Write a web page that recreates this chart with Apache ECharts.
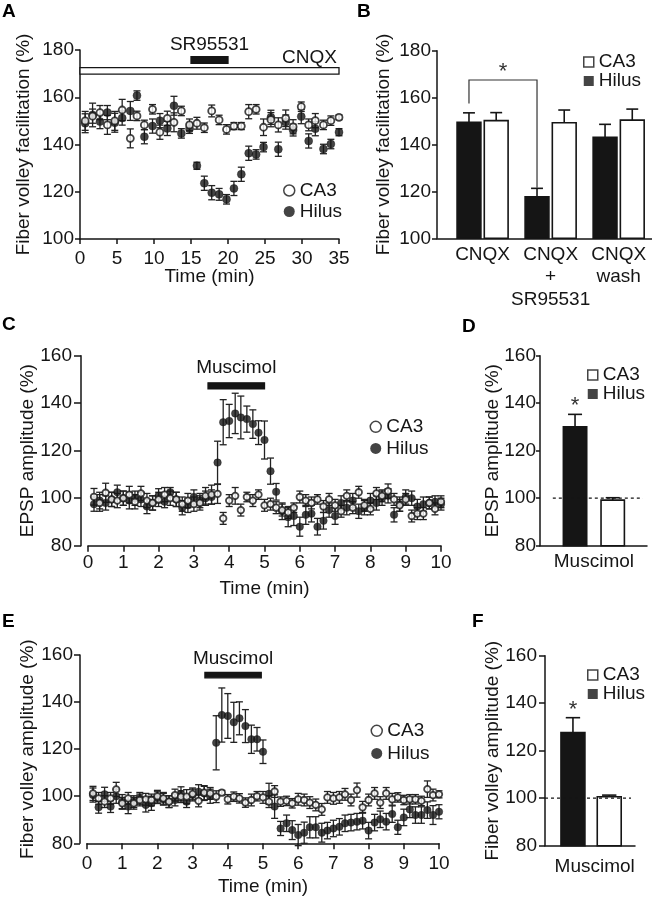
<!DOCTYPE html>
<html><head><meta charset="utf-8">
<script src="https://cdn.jsdelivr.net/npm/echarts@6/dist/echarts.min.js"></script>
<style>html,body{margin:0;padding:0;background:#fff}#c{width:652px;height:900px}</style>
</head><body><div id="c"></div>
<script>
const FONT = '"Liberation Sans", Arial, Helvetica, sans-serif';
const INK = '#151515';

// ---------- Panel A : fiber volley facilitation vs time ----------
const timeA = [0.7,1.7,2.7,3.7,4.7,5.7,6.8,7.7,8.7,9.8,10.8,11.8,12.7,13.7,14.8,15.8,16.8,17.8,18.8,19.8,20.8,21.8,22.8,23.8,24.8,25.8,26.8,27.8,28.8,29.9,30.9,31.8,32.9,33.9,35.0];
const hilusA = [149.0,152.5,149.7,153.5,149.2,151.2,154.2,160.7,143.3,147.8,150.1,146.8,156.4,144.7,146.7,131.0,123.6,119.6,118.9,116.8,121.4,127.4,136.3,135.8,138.9,151.5,138.0,149.5,146.1,151.8,141.5,146.7,138.1,140.2,145.2];
const hilusErrA = [4,5,3,3,4,3,4,2,3,3,3,3,4,2,2,1.5,3,3,2.5,2,3,3,3,2,2,3,3,3,2.5,3,3,3,2,2,1.5];
const ca3A = [150.0,152.0,153.5,148.3,150.0,154.6,142.6,152.1,148.3,154.9,145.2,151.1,149.4,154.2,148.3,149.0,147.1,154.2,150.4,146.4,147.8,147.8,153.9,154.9,147.3,150.5,148.3,151.1,147.5,156.0,148.3,150.1,148.3,150.1,151.5];
const ca3ErrA = [4,3,3,4,4,4.5,4,2,2,2,3,3,4,2,2.5,2.5,2,2.5,2,2,1.5,1.5,3,2,3.5,3,3,3.5,3,2,2.5,3,2,2,1];
const cnqxWindowA = [0, 35];
const srWindowA = [15, 20];

// ---------- Panel B : summary bars ----------
const groupsB = ['CNQX', 'CNQX\n+\nSR95531', 'CNQX\nwash'];
const hilusB = [149.5, 117.7, 143.1];
const hilusErrB = [4.0, 3.6, 5.5];
const ca3B = [150.2, 149.3, 150.4];
const ca3ErrB = [3.4, 5.4, 4.7];
const sigPairB = [0, 1];

// ---------- Panels C & E : time courses (10 s bins) ----------
const timeCE = [0.17,0.33,0.5,0.67,0.83,1,1.17,1.33,1.5,1.67,1.83,2,2.17,2.33,2.5,2.67,2.83,3,3.17,3.33,3.5,3.67,3.83,4,4.17,4.33,4.5,4.67,4.83,5,5.17,5.33,5.5,5.67,5.83,6,6.17,6.33,6.5,6.67,6.83,7,7.17,7.33,7.5,7.67,7.83,8,8.17,8.33,8.5,8.67,8.83,9,9.17,9.33,9.5,9.67,9.83,10];
const hilusC = [97.5,99,98,99.5,102.5,100,99,100,99.5,96.5, 98,101,98.5,102.5,99.5,96,97,100.5,99,100, 100.5,115,132,132.5,135.7,134,133.3,131.2,127.6,124.5, 111.4,102.7,94.5,92,92.5,88,93,93.5,88,90.5, 95,92.5,98,96,99,94.5,96,99,98,100, 101,93,97.5,100.5,100,96.5,97.5,98,98.5,97.5];
const hilusErrC = [3,3.5,3,3,3,3,3.5,3,3,3, 3,3,2.5,2,3,3,3,3,3,3, 3,9,9.5,7,8.5,9,5.5,6,5,8, 5.5,3.5,3.5,4,4,4,4,3.5,3.5,3.5, 3,3.5,3,3,3,3,3,3,3,3, 3,3,3,3,3,3,3,2.5,2.5,2.5];
const ca3C = [100.6,98,102.3,99.5,99,100,101.5,98.5,102,99, 98,99.5,101.5,100,99.5,97.5,99,97.5,98,101, 101.5,101.8,91.5,99,101,95,100.5,99,101.5,97, 97.5,96,95,94,96,100.5,99,98,99.5,96.5, 99.5,97,94.5,101,96,102.5,97,95.5,102,101, 103,99.5,97,99.5,92.5,93.5,93.5,98,95.5,98.5];
const ca3ErrC = [3.5,3.5,4,3,3,3,3.5,3,3,3, 3,3,3,3,3,3,3,3,3,3.5, 4,4,2.5,2.5,3.5,2.5,2,2.5,2,2.5, 2.5,2.5,2.5,2.5,2,2.5,2.5,2.5,2,2.5, 2.5,2.5,2.5,2.5,2.5,2.5,2.5,2.5,2.5,2.5, 3,2.5,2.5,2.5,2.5,2.5,2.5,2.5,2.5,2.5];
const muscimolC = [3.4, 5.0];

const hilusE = [100.5,95.3,100.8,95.6,100,97.7,95.6,97.7,99.1,96.3, 97,99.4,98.7,97.7,98.4,101,97.7,100.5,101.9,101.2, 100,122.7,134.5,134.1,131.4,133.1,129.8,124.2,124.2,118.9, 101,95.6,86.3,88.5,85.6,83.5,84.5,86.8,86.8,84.5, 85.4,86.3,87,88.5,88.8,89.2,89.6,85.4,88.8,90.2, 89.2,92.4,86.8,91,94.4,92,92,94.1,92,93.4];
const hilusErrE = [3,2.5,3,2.5,3,3,3,2.5,2.5,3, 3,2.5,2.5,2.5,2.5,3,2.5,2.5,3,3, 3,11.5,11.5,9.5,8.5,7,7,6,5,5, 4.5,5,3,3.5,4,4.5,4.5,4.5,4.5,4, 3.5,3.5,3.5,3.5,3.5,3.5,3.5,3.5,3.5,3.5, 3.5,3.5,3,3.5,3.5,3.5,3.5,3.5,4,3];
const ca3E = [101.2,99.1,97.7,99.1,102.9,97,99.1,97,98.4,98.7, 98.4,100,99.1,97.7,100.5,99.8,99.8,101,98,101.5, 101.2,99.8,101.5,98.7,99.8,99.1,97.3,98.4,100,99.5, 97.7,102,97.7,98,97,98.7,98.4,97.3,96.3,94.4, 99.5,99.1,99.5,100.8,98.4,102.6,95.3,98.4,101.2,97.3, 101.2,98.7,99.5,98.4,98.7,98.7,98,103,100.5,100.8];
const ca3ErrE = [3,2.5,2.5,2.5,3,2.5,2.5,2.5,2.5,2.5, 2.5,2.5,2.5,2.5,2.5,2.5,3,2.5,2.5,3, 2.5,2.5,1,2,2,2,2,2.5,2,2.5, 2.5,2.5,2,2,2,2.5,2.5,2.5,2.5,2.5, 2.5,2.5,2.5,2.5,2.5,3,2.5,2.5,2.5,2.5, 2.5,2.5,2,2,2,2,2,3.5,2.5,1.5];
const muscimolE = [3.35, 4.95];

// ---------- Panels D & F : summary bars ----------
const groupD = ['Muscimol'];
const hilusD = [130.1], hilusErrD = [5.2], ca3D = [99.2], ca3ErrD = [1.0];
const groupF = ['Muscimol'];
const hilusF = [127.6], hilusErrF = [6.3], ca3F = [100.6], ca3ErrF = [0.7];
const baselineDF = 100;

// ---------- helpers ----------
function deepMerge(a, b) {
  const out = Object.assign({}, a);
  for (const k in b) {
    const v = b[k];
    if (v && typeof v === 'object' && !Array.isArray(v) && a[k] && typeof a[k] === 'object') out[k] = deepMerge(a[k], v);
    else out[k] = v;
  }
  return out;
}
function axis(extra) {
  const base = {
    type: 'value', splitLine: {show: false},
    axisLine: {show: true, onZero: false, lineStyle: {color: INK, width: 1.5}},
    axisTick: {show: true, inside: false, length: 5, lineStyle: {color: INK, width: 1.5}},
    axisLabel: {show: true, fontSize: 19, color: INK, fontFamily: FONT, margin: 8, showMinLabel: true, showMaxLabel: true, hideOverlap: false},
    nameLocation: 'middle', nameMoveOverlap: false,
    nameTextStyle: {fontSize: 19, color: INK, fontFamily: FONT}
  };
  return deepMerge(base, extra);
}
function pointErrors(ax, times, vals, errs) {
  return {
    type: 'custom', xAxisIndex: ax, yAxisIndex: ax, silent: true, z: 1,
    data: times.map((t, i) => [t, vals[i], errs[i]]), encode: {x: 0, y: 1},
    renderItem: (p, api) => {
      const x = api.value(0), y = api.value(1), e = api.value(2);
      const hi = api.coord([x, y + e]), lo = api.coord([x, y - e]);
      const s = {stroke: '#222', lineWidth: 1.3}, c = 3.5;
      return {type: 'group', children: [
        {type: 'line', shape: {x1: hi[0], y1: hi[1], x2: lo[0], y2: lo[1]}, style: s},
        {type: 'line', shape: {x1: hi[0] - c, y1: hi[1], x2: hi[0] + c, y2: hi[1]}, style: s},
        {type: 'line', shape: {x1: lo[0] - c, y1: lo[1], x2: lo[0] + c, y2: lo[1]}, style: s}
      ]};
    }
  };
}
function points(ax, name, times, vals, open, size) {
  return {
    type: 'scatter', name, xAxisIndex: ax, yAxisIndex: ax, silent: true, z: open ? 3 : 2,
    data: times.map((t, i) => [t, vals[i]]), symbol: 'circle', symbolSize: size,
    itemStyle: open ? {color: '#fff', borderColor: INK, borderWidth: 1.8} : {color: INK, borderColor: INK, borderWidth: 0.5}
  };
}
function bars(ax, name, xs, vals, errs, halfW, base, fill, capFrac) {
  return {
    type: 'custom', name, xAxisIndex: ax, yAxisIndex: ax, silent: true, z: 2,
    data: xs.map((x, i) => [x, vals[i], errs[i]]), encode: {x: 0, y: 1},
    renderItem: (p, api) => {
      const x = api.value(0), y = api.value(1), e = api.value(2);
      const tl = api.coord([x - halfW, y]), br = api.coord([x + halfW, base]);
      const top = api.coord([x, y]), et = api.coord([x, y + e]);
      const c = (br[0] - tl[0]) * capFrac;
      const s = {stroke: INK, lineWidth: 1.6};
      return {type: 'group', children: [
        {type: 'line', shape: {x1: et[0], y1: et[1], x2: top[0], y2: top[1]}, style: s},
        {type: 'line', shape: {x1: et[0] - c, y1: et[1], x2: et[0] + c, y2: et[1]}, style: s},
        {type: 'rect', shape: {x: tl[0], y: tl[1], width: br[0] - tl[0], height: br[1] - tl[1]}, style: {fill, stroke: INK, lineWidth: 1.6}}
      ]};
    }
  };
}
function drugBar(ax, win, yLo, yHi, fill, label, labelAlign, dy) {
  return {
    type: 'custom', xAxisIndex: ax, yAxisIndex: ax, silent: true, z: 5,
    data: [[win[0], win[1]]], encode: {x: [0, 1]},
    renderItem: (p, api) => {
      const a = api.coord([api.value(0), yHi]), b = api.coord([api.value(1), yLo]);
      const tx = labelAlign === 'right' ? b[0] - 2 : (a[0] + b[0]) / 2;
      return {type: 'group', children: [
        {type: 'rect', shape: {x: a[0], y: a[1], width: b[0] - a[0], height: b[1] - a[1]}, style: {fill, stroke: INK, lineWidth: 1.3}},
        {type: 'text', x: tx, y: a[1] + dy, style: {text: label, fontSize: 19, fontFamily: FONT, fill: INK, align: labelAlign, verticalAlign: 'middle'}}
      ]};
    }
  };
}
function star(ax, x, yRef) {
  return {
    type: 'custom', xAxisIndex: ax, yAxisIndex: ax, silent: true, z: 5,
    data: [[x, yRef]], encode: {x: 0, y: 1},
    renderItem: (p, api) => {
      const s = api.coord([api.value(0), api.value(1)]);
      return {type: 'text', x: s[0], y: s[1] - 8, style: {text: '*', fontSize: 22, fontFamily: FONT, fill: '#333', align: 'center', verticalAlign: 'middle'}};
    }
  };
}
function dashed(ax, x0, x1, yv) {
  return {
    type: 'custom', xAxisIndex: ax, yAxisIndex: ax, silent: true, z: 4,
    data: [[x0, x1, yv]], encode: {x: [0, 1]},
    renderItem: (p, api) => {
      const a = api.coord([api.value(0), api.value(2)]), b = api.coord([api.value(1), api.value(2)]);
      return {type: 'line', shape: {x1: a[0], y1: a[1], x2: b[0], y2: b[1]}, style: {stroke: INK, lineWidth: 1.2, lineDash: [3, 3]}};
    }
  };
}
function legendAt(left, top, rowH, shape, size) {
  return {
    orient: 'vertical', left, top, padding: 0, itemGap: 0, itemWidth: size, itemHeight: size, selectedMode: false,
    textStyle: {fontSize: 19, color: INK, fontFamily: FONT, lineHeight: rowH},
    data: [
      {name: 'CA3', icon: shape, itemStyle: {color: '#fff', borderColor: INK, borderWidth: 1.5}},
      {name: 'Hilus', icon: shape, itemStyle: {color: INK, borderColor: INK, borderWidth: 0}}
    ]
  };
}

const grids = [
  {left: 80, top: 50, width: 259, height: 189},
  {left: 437, top: 50.7, width: 215, height: 187.6},
  {left: 88, top: 355.7, width: 353, height: 190},
  {left: 540, top: 355.7, width: 107, height: 190},
  {left: 87, top: 655, width: 352, height: 188.3},
  {left: 545, top: 655.7, width: 90, height: 190}
].map(g => Object.assign({containLabel: false, outerBoundsMode: 'none'}, g));

const xAxes = [
  axis({gridIndex: 0, min: 0, max: 35, interval: 5, axisLabel: {margin: 10}, name: 'Time (min)', nameGap: 28}),
  axis({gridIndex: 1, min: -0.67, max: 2.49, axisTick: {show: false}, axisLabel: {customValues: [0, 1, 2], formatter: v => groupsB[Math.round(v)], lineHeight: 22.5, margin: 5}}),
  axis({gridIndex: 2, min: 0, max: 10, interval: 1, axisTick: {length: 6}, axisLabel: {margin: 8}, name: 'Time (min)', nameGap: 33.5}),
  axis({gridIndex: 3, min: -1.43, max: 1.41, axisTick: {show: false}, axisLabel: {customValues: [0], formatter: () => groupD[0], margin: 7}}),
  axis({gridIndex: 4, min: 0, max: 10, interval: 1, axisTick: {length: 6}, axisLabel: {margin: 11}, name: 'Time (min)', nameGap: 34}),
  axis({gridIndex: 5, min: -1.27, max: 1.21, axisTick: {show: false}, axisLabel: {customValues: [0.1], formatter: () => groupF[0], margin: 12}})
];
const yAxes = [
  axis({gridIndex: 0, min: 100, max: 180, interval: 20, axisLabel: {margin: 6}, name: 'Fiber volley facilitation (%)', nameGap: 47, nameRotate: 90}),
  axis({gridIndex: 1, min: 100, max: 180, interval: 20, axisLabel: {margin: 6}, name: 'Fiber volley facilitation (%)', nameGap: 43.5, nameRotate: 90}),
  axis({gridIndex: 2, min: 80, max: 160, interval: 20, offset: 7, axisTick: {length: 7}, axisLabel: {margin: 9}, name: 'EPSP amplitude (%)', nameGap: 44, nameRotate: 90}),
  axis({gridIndex: 3, min: 80, max: 160, interval: 20, axisTick: {length: 4}, axisLabel: {margin: 4}, name: 'EPSP amplitude (%)', nameGap: 38, nameRotate: 90}),
  axis({gridIndex: 4, min: 80, max: 160, interval: 20, offset: 7, axisTick: {length: 6}, axisLabel: {margin: 7}, name: 'Fiber volley amplitude (%)', nameGap: 43, nameRotate: 90}),
  axis({gridIndex: 5, min: 80, max: 160, interval: 20, axisTick: {length: 6}, axisLabel: {margin: 8}, name: 'Fiber volley amplitude (%)', nameGap: 43, nameRotate: 90})
];

const series = [
  // A
  pointErrors(0, timeA, hilusA, hilusErrA),
  pointErrors(0, timeA, ca3A, ca3ErrA),
  points(0, 'Hilus', timeA, hilusA, false, 8),
  points(0, 'CA3', timeA, ca3A, true, 7),
  drugBar(0, cnqxWindowA, 169.8, 172.5, '#fff', 'CNQX', 'right', -10),
  drugBar(0, srWindowA, 174.4, 177.2, INK, 'SR95531', 'center', -12),
  // B
  bars(1, 'Hilus', groupsB.map((_, i) => i - 0.2), hilusB, hilusErrB, 0.175, 100, INK, 0.25),
  bars(1, 'CA3', groupsB.map((_, i) => i + 0.2), ca3B, ca3ErrB, 0.175, 100, '#fff', 0.25),
  {
    type: 'custom', xAxisIndex: 1, yAxisIndex: 1, silent: true, z: 5,
    data: [sigPairB], encode: {x: [0, 1]},
    renderItem: (p, api) => {
      const i = api.value(0), j = api.value(1);
      const xi = i - 0.2, xj = j - 0.2, yTop = 167.5;
      const p0 = api.coord([xi, hilusB[i] + hilusErrB[i] + 4]);
      const p1 = api.coord([xi, yTop]);
      const p2 = api.coord([xj, yTop]);
      const p3 = api.coord([xj, hilusB[j] + hilusErrB[j] + 0.3]);
      const s = api.coord([(xi + xj) / 2, yTop]);
      return {type: 'group', children: [
        {type: 'polyline', shape: {points: [p0, p1, p2, p3]}, style: {stroke: '#333', lineWidth: 1.2, fill: null}},
        {type: 'text', x: s[0], y: s[1] - 8, style: {text: '*', fontSize: 22, fontFamily: FONT, fill: '#333', align: 'center', verticalAlign: 'middle'}}
      ]};
    }
  },
  // C
  pointErrors(2, timeCE, hilusC, hilusErrC),
  pointErrors(2, timeCE, ca3C, ca3ErrC),
  points(2, 'Hilus', timeCE, hilusC, false, 7.5),
  points(2, 'CA3', timeCE, ca3C, true, 6.5),
  drugBar(2, muscimolC, 146, 148.6, INK, 'Muscimol', 'center', -15),
  // D
  bars(3, 'Hilus', [-0.5], hilusD, hilusErrD, 0.31, 80, INK, 0.3),
  bars(3, 'CA3', [0.5], ca3D, ca3ErrD, 0.31, 80, '#fff', 0.3),
  dashed(3, -1.09, 1.3, baselineDF),
  star(3, -0.5, hilusD[0] + hilusErrD[0]),
  // E
  pointErrors(4, timeCE, hilusE, hilusErrE),
  pointErrors(4, timeCE, ca3E, ca3ErrE),
  points(4, 'Hilus', timeCE, hilusE, false, 7.5),
  points(4, 'CA3', timeCE, ca3E, true, 6.5),
  drugBar(4, muscimolE, 150.3, 152.6, INK, 'Muscimol', 'center', -14),
  // F
  bars(5, 'Hilus', [-0.5], hilusF, hilusErrF, 0.33, 80, INK, 0.3),
  bars(5, 'CA3', [0.5], ca3F, ca3ErrF, 0.33, 80, '#fff', 0.3),
  dashed(5, -1.27, 1.1, baselineDF),
  star(5, -0.5, hilusF[0] + hilusErrF[0])
];

const panelLetters = ['A', 'B', 'C', 'D', 'E', 'F'];
const letterPos = [[2, 2], [357, 2], [2, 315], [462, 317], [2, 612], [472, 612]];

const chart = echarts.init(document.getElementById('c'), null, {renderer: 'canvas'});
chart.setOption({
  animation: false,
  backgroundColor: '#fff',
  textStyle: {fontFamily: FONT},
  title: panelLetters.map((t, i) => ({text: t, left: letterPos[i][0], top: letterPos[i][1], padding: 0,
    textStyle: {fontSize: 19, fontWeight: 'bold', color: '#000', fontFamily: FONT}})),
  legend: [
    legendAt(283, 180, 21, 'circle', 11),
    legendAt(583, 52.5, 15, 'rect', 10),
    legendAt(369.5, 416, 21.6, 'circle', 11),
    legendAt(587, 365.5, 15, 'rect', 10),
    legendAt(370.5, 719.5, 22.6, 'circle', 11),
    legendAt(587, 665.5, 14.5, 'rect', 10)
  ],
  grid: grids,
  xAxis: xAxes,
  yAxis: yAxes,
  series
});
</script>
</body></html>
